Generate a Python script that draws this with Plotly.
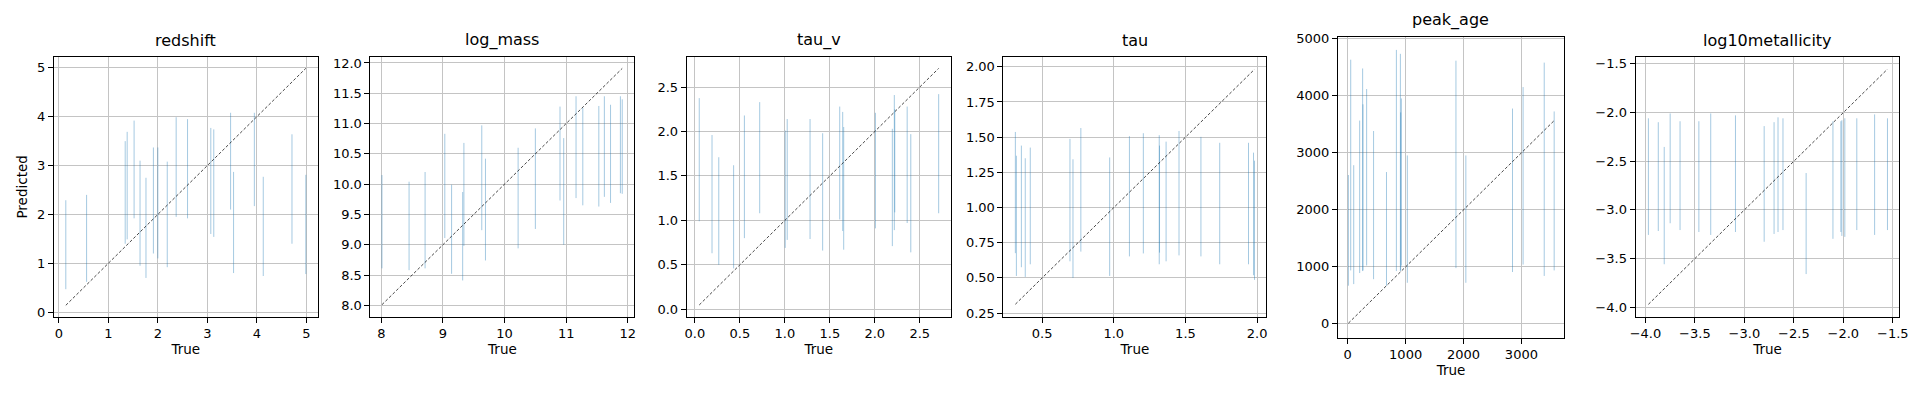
import plotly.graph_objects as go

# ---------------- data ----------------
names = ["redshift", "log_mass", "tau_v", "tau", "peak_age", "log10metallicity"]

redshift_true = [0.14, 0.56, 1.34, 1.38, 1.52, 1.64, 1.76, 1.91, 2.00, 2.19,
                 2.37, 2.60, 3.07, 3.13, 3.47, 3.53, 3.95, 4.13, 4.71, 4.99]
redshift_lo = [0.47, 0.62, 1.40, 1.49, 1.92, 0.95, 0.70, 1.20, 1.10, 0.92,
               1.95, 1.92, 1.60, 1.54, 2.10, 0.80, 2.17, 0.74, 1.40, 0.78]
redshift_hi = [2.29, 2.40, 3.50, 3.69, 3.92, 3.10, 2.75, 3.37, 3.37, 3.08,
               3.99, 3.95, 3.77, 3.74, 4.08, 2.87, 4.08, 2.77, 3.64, 2.81]

log_mass_true = [8.01, 8.45, 8.71, 9.03, 9.14, 9.32, 9.34, 9.63, 9.69, 10.22,
                 10.50, 10.90, 10.96, 11.16, 11.27, 11.53, 11.62, 11.72, 11.88, 11.91]
log_mass_lo = [8.61, 8.58, 8.61, 9.11, 8.52, 8.41, 8.98, 9.24, 8.74, 8.94,
               9.26, 9.73, 9.00, 9.77, 9.65, 9.63, 9.79, 9.69, 9.85, 9.84]
log_mass_hi = [10.15, 10.04, 10.20, 10.83, 9.99, 9.87, 10.68, 10.97, 10.42, 10.60,
               10.92, 11.28, 10.76, 11.45, 11.26, 11.29, 11.45, 11.31, 11.45, 11.40]

tau_v_true = [0.048, 0.19, 0.265, 0.43, 0.55, 0.72, 1.004, 1.026, 1.28, 1.42,
              1.61, 1.643, 1.654, 2.007, 2.195, 2.217, 2.222, 2.36, 2.40, 2.71]
tau_v_lo = [0.99, 0.63, 0.50, 0.46, 0.80, 1.08, 0.69, 0.78, 0.79, 0.66,
            1.01, 0.88, 0.67, 0.91, 0.71, 0.89, 1.09, 0.97, 0.64, 1.08]
tau_v_hi = [2.375, 1.96, 1.71, 1.62, 2.18, 2.33, 2.01, 2.14, 2.14, 1.98,
            2.28, 2.22, 2.05, 2.21, 2.03, 2.41, 2.25, 2.28, 1.97, 2.42]

tau_true = [0.313, 0.320, 0.355, 0.382, 0.417, 0.694, 0.715, 0.770, 0.971, 1.109,
            1.206, 1.317, 1.319, 1.365, 1.455, 1.608, 1.739, 1.940, 1.975, 1.982]
tau_lo = [0.676, 0.514, 0.576, 0.507, 0.597, 0.618, 0.500, 0.687, 0.514, 0.653,
          0.674, 0.597, 0.680, 0.618, 0.660, 0.653, 0.597, 0.597, 0.519, 0.486]
tau_hi = [1.537, 1.368, 1.440, 1.350, 1.426, 1.488, 1.343, 1.565, 1.356, 1.507,
          1.528, 1.514, 1.440, 1.468, 1.544, 1.502, 1.460, 1.460, 1.390, 1.333]

peak_age_true = [11, 51, 103, 206, 257, 263, 326, 446, 669, 840,
                 909, 914, 926, 1029, 1869, 2040, 2846, 3029, 3394, 3566]
peak_age_lo = [669, 937, 697, 891, 926, 937, 1023, 783, 669, 926,
               926, 940, 1023, 720, 977, 720, 909, 1040, 840, 937]
peak_age_hi = [2611, 4634, 2783, 3566, 4480, 3851, 4120, 3383, 2663, 4806,
               4737, 3709, 3954, 2954, 4617, 2954, 3777, 4154, 4583, 3726]

metal_true = [-3.97, -3.87, -3.81, -3.75, -3.65, -3.46, -3.34, -3.09, -2.80, -2.70,
              -2.66, -2.61, -2.376, -2.105, -2.025, -2.015, -1.985, -1.864, -1.684, -1.554]
metal_lo = [-3.257, -3.217, -3.558, -3.137, -3.207, -3.227, -3.257, -3.227, -3.327, -3.247,
            -3.227, -3.207, -3.659, -3.297, -3.227, -3.267, -3.277, -3.207, -3.257, -3.207]
metal_hi = [-2.059, -2.099, -2.353, -2.009, -2.089, -2.089, -2.009, -2.029, -2.139, -2.099,
            -2.049, -2.059, -2.621, -2.089, -2.089, -2.079, -2.059, -2.059, -2.019, -2.059]

trues = [redshift_true, log_mass_true, tau_v_true, tau_true, peak_age_true, metal_true]
los = [redshift_lo, log_mass_lo, tau_v_lo, tau_lo, peak_age_lo, metal_lo]
his = [redshift_hi, log_mass_hi, tau_v_hi, tau_hi, peak_age_hi, metal_hi]

# ---------------- layout / style ----------------
W, H = 1928, 393
FONT = "DejaVu Sans"
# pixel boxes (left, right, top, bottom) of each axes
boxes = [
    (48.3, 314.0, 53.3, 319.0),
    (367.3, 633.3, 53.3, 319.0),
    (686.0, 952.3, 53.3, 319.0),
    (1005.3, 1270.3, 53.3, 319.0),
    (1342.3, 1570.3, 32.3, 340.3),
    (1642.3, 1908.3, 53.3, 319.0),
]
xranges = [(-0.1, 5.227), (7.823, 12.107), (-0.092, 2.846), (0.23, 2.065), (-171, 3737), (-4.1, -1.433)]
yranges = [(-0.093, 5.22), (7.812, 12.097), (-0.084, 2.837), (0.2245, 2.069), (-240, 5040), (-4.097, -1.43)]
xticks = [dict(tick0=0, dtick=1, tickformat="d"),
          dict(tick0=8, dtick=1, tickformat="d"),
          dict(tick0=0, dtick=0.5, tickformat=".1f"),
          dict(tick0=0.5, dtick=0.5, tickformat=".1f"),
          dict(tick0=0, dtick=1000, tickformat="d"),
          dict(tick0=-4, dtick=0.5, tickformat=".1f")]
yticks = [dict(tick0=0, dtick=1, tickformat="d"),
          dict(tick0=8, dtick=0.5, tickformat=".1f"),
          dict(tick0=0, dtick=0.5, tickformat=".1f"),
          dict(tick0=0.25, dtick=0.25, tickformat=".2f"),
          dict(tick0=0, dtick=1000, tickformat="d"),
          dict(tick0=-4, dtick=0.5, tickformat=".1f")]

fig = go.Figure()
annotations = []

for i, name in enumerate(names):
    n = i + 1
    xa = "x" if n == 1 else f"x{n}"
    ya = "y" if n == 1 else f"y{n}"
    xs, ys = [], []
    for t, lo, hi in zip(trues[i], los[i], his[i]):
        xs += [t, t, None]
        ys += [lo, hi, None]
    fig.add_trace(go.Scatter(x=xs, y=ys, mode="lines", xaxis=xa, yaxis=ya,
                             line=dict(color="rgba(31,119,180,0.4)", width=1),
                             hoverinfo="skip", showlegend=False))
    tmin, tmax = min(trues[i]), max(trues[i])
    fig.add_trace(go.Scatter(x=[tmin, tmax], y=[tmin, tmax], mode="lines", xaxis=xa, yaxis=ya,
                             line=dict(color="rgba(0,0,0,0.9)", width=0.8, dash="3px,2px"),
                             hoverinfo="skip", showlegend=False))

    l, r, t, b = boxes[i]
    common = dict(showgrid=True, gridcolor="#c4c4c4", gridwidth=1,
                  showline=True, linecolor="black", linewidth=1, mirror=True,
                  ticks="outside", ticklen=5, tickcolor="black", tickwidth=1,
                  zeroline=False, tickfont=dict(family=FONT, size=13, color="black"),
                  tickmode="linear")
    xkey = "xaxis" if n == 1 else f"xaxis{n}"
    ykey = "yaxis" if n == 1 else f"yaxis{n}"
    fig.layout[xkey] = dict(domain=[l / W, r / W], range=list(xranges[i]), anchor=ya,
                            title=dict(text="True", font=dict(family=FONT, size=13.5, color="black"), standoff=4),
                            **xticks[i], **common)
    ydict = dict(domain=[(H - b) / H, (H - t) / H], range=list(yranges[i]), anchor=xa,
                 **yticks[i], **common)
    if n == 1:
        ydict["title"] = dict(text="Predicted", font=dict(family=FONT, size=13.5, color="black"), standoff=6)
    fig.layout[ykey] = ydict
    annotations.append(dict(text=name, x=(l + r) / 2 / W, y=(H - t) / H, xref="paper", yref="paper",
                            xanchor="center", yanchor="bottom", yshift=5, showarrow=False,
                            font=dict(family=FONT, size=16, color="black")))

fig.update_layout(width=W, height=H, margin=dict(l=0, r=0, t=0, b=0),
                  paper_bgcolor="white", plot_bgcolor="white",
                  annotations=annotations, showlegend=False)

fig.write_html("out.html",
               config={"displayModeBar": False},
               post_script="document.body.style.margin='0';document.body.style.overflow='hidden';")
